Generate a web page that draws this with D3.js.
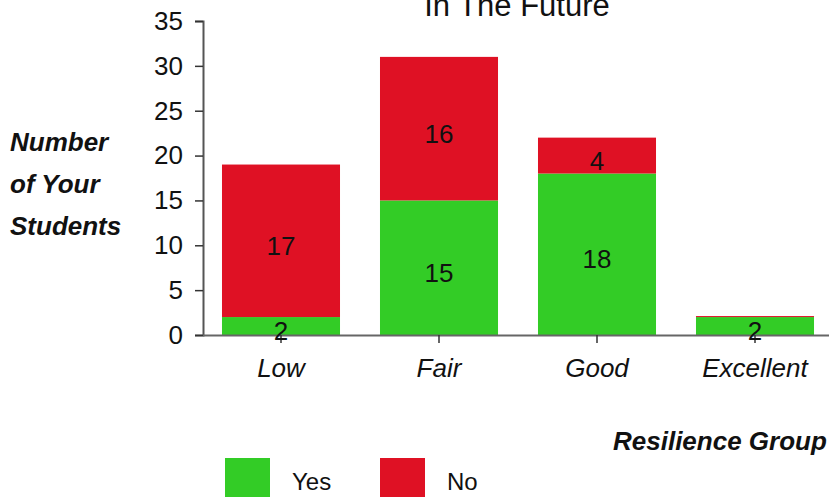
<!DOCTYPE html>
<html>
<head>
<meta charset="utf-8">
<script src="https://cdn.jsdelivr.net/npm/d3@7"></script>
<style>
  html, body { margin: 0; padding: 0; background: #fff; }
  svg { display: block; font-family: "Liberation Sans", Arial, Helvetica, sans-serif; }
</style>
</head>
<body>
<svg id="chart" width="829" height="497"></svg>
<script>
// Resilience groups and the yes/no counts stacked in each bar
const groups = ["Low", "Fair", "Good", "Excellent"];
const yesCounts = [2, 15, 18, 2];
const noCounts = [17, 16, 4, 0];
const seriesNames = ["Yes", "No"];
const seriesColors = ["#33cc26", "#df1124"];
const yTicks = [0, 5, 10, 15, 20, 25, 30, 35];

const FONT = "Liberation Sans, Arial, Helvetica, sans-serif";
const svg = d3.select("#chart");

const x = d3.scaleBand()
  .domain(groups)
  .range([202, 834])
  .paddingInner(0.253)
  .paddingOuter(0.1265);

const y = d3.scaleLinear().domain([0, 35]).range([335, 21]);

const rows = groups.map((g, i) => ({ group: g, Yes: yesCounts[i], No: noCounts[i] }));
const stacked = d3.stack().keys(seriesNames)(rows);
const color = d3.scaleOrdinal().domain(seriesNames).range(seriesColors);

// Title (its first line sits above the visible area)
svg.append("text")
  .attr("x", 517).attr("y", 16)
  .attr("text-anchor", "middle")
  .attr("font-size", 31)
  .attr("fill", "#111")
  .text("In The Future");

// Stacked bars
const layers = svg.append("g").selectAll("g")
  .data(stacked)
  .join("g")
  .attr("fill", d => color(d.key));

layers.selectAll("rect")
  .data(d => d)
  .join("rect")
  .attr("x", d => x(d.data.group))
  .attr("width", x.bandwidth())
  .attr("y", d => Math.min(y(d[1]), y(d[0]) - 1))
  .attr("height", d => Math.max(1, y(d[0]) - y(d[1])));

// Y axis
const yAxis = svg.append("g")
  .attr("transform", "translate(203,0)")
  .call(d3.axisLeft(y).tickValues(yTicks).tickSize(8).tickPadding(12));
yAxis.select(".domain").attr("stroke", "#555").attr("stroke-width", 2);
yAxis.selectAll(".tick line").attr("stroke", "#333").attr("stroke-width", 1.5);
yAxis.selectAll(".tick text")
  .attr("font-size", 26).attr("fill", "#111")
  .attr("font-family", FONT);

// X axis
const xAxis = svg.append("g")
  .attr("transform", "translate(0,335)")
  .call(d3.axisBottom(x).tickSizeOuter(0).tickSize(8).tickPadding(16));
xAxis.select(".domain").attr("stroke", "#666").attr("stroke-width", 2)
  .attr("d", "M203,0.5H829");
xAxis.selectAll(".tick line").attr("stroke", "#333").attr("stroke-width", 1.5);
xAxis.selectAll(".tick text")
  .attr("font-size", 26).attr("font-style", "italic").attr("fill", "#111")
  .attr("font-family", FONT);

// Segment value labels
const labels = [];
stacked.forEach(layer => layer.forEach(d => {
  const v = d[1] - d[0];
  if (v > 0) labels.push({ group: d.data.group, mid: (d[0] + d[1]) / 2, v });
}));
svg.append("g").selectAll("text")
  .data(labels)
  .join("text")
  .attr("x", d => x(d.group) + x.bandwidth() / 2)
  .attr("y", d => y(d.mid) + 14)
  .attr("text-anchor", "middle")
  .attr("font-size", 26)
  .attr("fill", "#111")
  .text(d => d.v);

// Axis titles
const yTitle = svg.append("text")
  .attr("font-size", 26).attr("font-weight", "bold").attr("font-style", "italic")
  .attr("fill", "#111");
["Number", "of Your", "Students"].forEach((t, i) => {
  yTitle.append("tspan").attr("x", 10).attr("y", 151 + i * 42).text(t);
});

svg.append("text")
  .attr("x", 613).attr("y", 450)
  .attr("font-size", 26).attr("font-weight", "bold").attr("font-style", "italic")
  .attr("fill", "#111")
  .text("Resilience Group");

// Legend
const legend = svg.append("g").selectAll("g")
  .data(seriesNames)
  .join("g")
  .attr("transform", (d, i) => `translate(${225 + i * 155},458)`);
legend.append("rect")
  .attr("width", 45).attr("height", 45)
  .attr("fill", d => color(d));
legend.append("text")
  .attr("x", 67).attr("y", 32)
  .attr("font-size", 24).attr("fill", "#111")
  .text(d => d);
</script>
</body>
</html>
